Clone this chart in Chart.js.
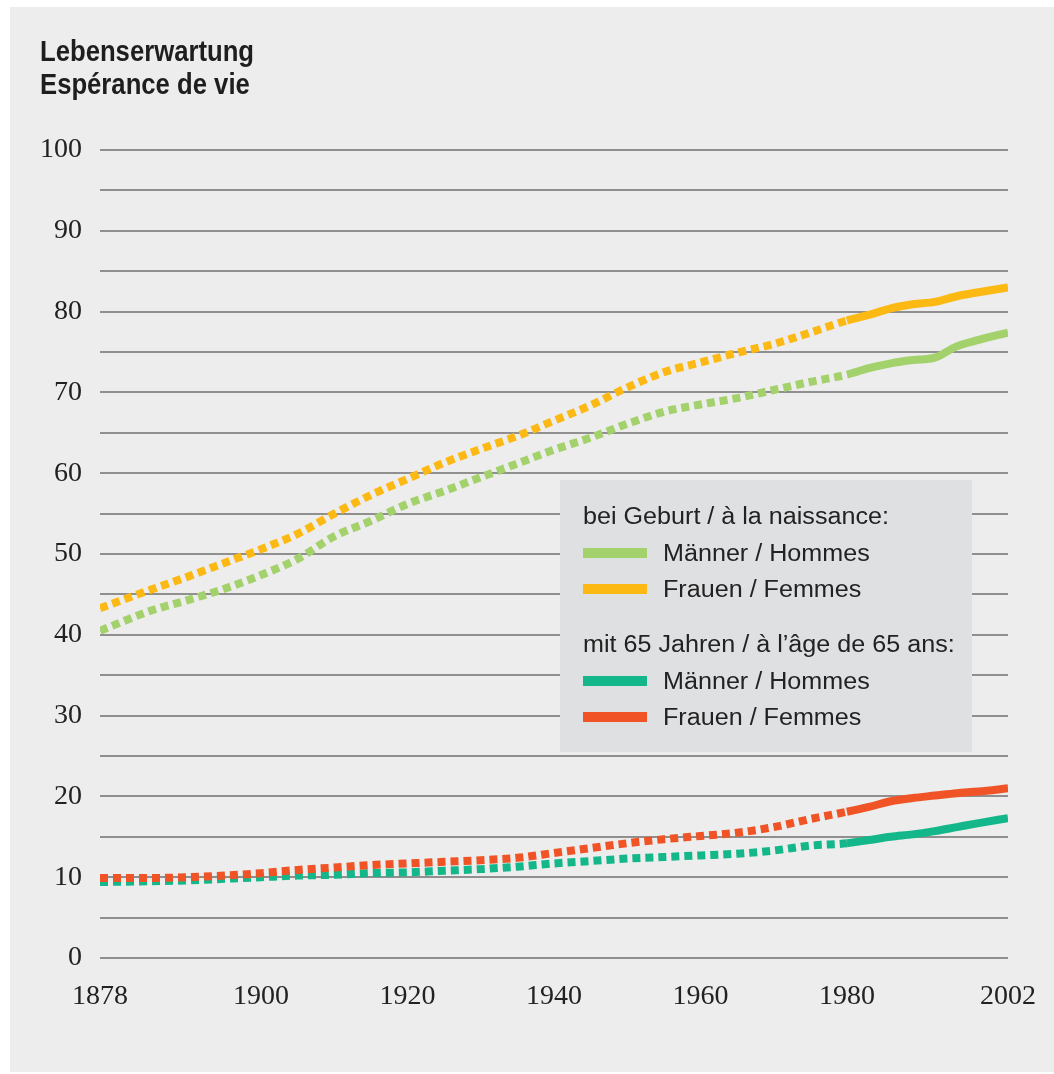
<!DOCTYPE html>
<html>
<head>
<meta charset="utf-8">
<script src="https://cdn.jsdelivr.net/npm/chart.js@4"></script>
<style>
  body { margin: 0; background: #ffffff; }
  #wrap { position: relative; width: 1054px; height: 1074px; }
</style>
</head>
<body>
<div id="wrap"><canvas id="lifeChart"></canvas></div>
<script>
// Jahre / années
var years = [1878, 1885, 1890, 1895, 1900, 1905, 1910, 1915, 1920, 1925, 1930, 1935, 1940, 1945,
             1950, 1955, 1960, 1965, 1970, 1975, 1980, 1983, 1986, 1989, 1992, 1995, 1998, 2002];

// bei Geburt
var maennerGeburt = [40.5, 43.0, 44.3, 45.7, 47.4, 49.4, 52.2, 54.1, 56.2, 57.8, 59.5, 61.2, 62.9, 64.4,
                     66.1, 67.6, 68.5, 69.3, 70.3, 71.3, 72.2, 73.0, 73.6, 74.0, 74.3, 75.7, 76.5, 77.4];
var frauenGeburt = [43.3, 45.6, 47.2, 48.9, 50.6, 52.5, 55.0, 57.3, 59.3, 61.3, 63.0, 64.6, 66.5, 68.4,
                    70.6, 72.5, 73.7, 74.9, 76.0, 77.4, 78.9, 79.6, 80.4, 80.9, 81.2, 81.9, 82.4, 83.0];

// mit 65 Jahren
var maenner65 = [9.4, 9.5, 9.6, 9.8, 10.0, 10.2, 10.3, 10.5, 10.6, 10.8, 11.0, 11.3, 11.7, 12.0,
                 12.3, 12.5, 12.7, 12.9, 13.3, 13.9, 14.2, 14.6, 15.0, 15.3, 15.7, 16.2, 16.7, 17.3];
var frauen65 = [9.9, 9.9, 10.0, 10.2, 10.5, 10.9, 11.2, 11.5, 11.7, 11.9, 12.1, 12.4, 13.0, 13.6,
                14.2, 14.7, 15.1, 15.5, 16.2, 17.2, 18.1, 18.7, 19.4, 19.8, 20.1, 20.4, 20.6, 21.0];

var xTicks = [1878, 1900, 1920, 1940, 1960, 1980, 2002];
var dottedUntil = 1980; // bis 1980 gepunktet

var titel = ['Lebenserwartung', 'Espérance de vie'];
var legendeGruppen = [
    { titel: 'bei Geburt / à la naissance:', eintraege: [
        { text: 'Männer / Hommes', farbe: '#a3d16b' },
        { text: 'Frauen / Femmes', farbe: '#fdb913' } ] },
    { titel: 'mit 65 Jahren / à l’âge de 65 ans:', eintraege: [
        { text: 'Männer / Hommes', farbe: '#14b789' },
        { text: 'Frauen / Femmes', farbe: '#f05426' } ] }
];

function punkte(werte) {
    return years.map(function (j, i) { return { x: j, y: werte[i] }; });
}

function linie(label, werte, farbe) {
    return {
        label: label,
        data: punkte(werte),
        borderColor: farbe,
        borderWidth: 8,
        borderCapStyle: 'butt',
        borderDash: [],
        pointRadius: 0,
        cubicInterpolationMode: 'monotone',
        segment: {
            borderDash: function (ctx) { return ctx.p1.parsed.x <= dottedUntil ? [8, 5] : undefined; }
        }
    };
}

// Hintergrund, Titel und Legendenkasten
var deko = {
    id: 'deko',
    beforeDraw: function (chart) {
        var c = chart.ctx;
        c.save();
        c.fillStyle = '#ffffff';
        c.fillRect(0, 0, chart.width, chart.height);
        c.fillStyle = '#ecedec';
        c.fillRect(10, 7, chart.width - 10, chart.height - 9);
        // Titel
        c.fillStyle = '#1e1e1e';
        c.font = 'bold 29px "Liberation Sans", Arial, sans-serif';
        c.textBaseline = 'alphabetic';
        var sx = 214 / c.measureText(titel[0]).width;
        c.translate(40, 0);
        c.scale(sx, 1);
        c.fillText(titel[0], 0, 61);
        c.fillText(titel[1], 0, 94);
        c.restore();
    },
    beforeDatasetsDraw: function (chart) {
        var c = chart.ctx;
        c.save();
        c.fillStyle = '#dfe0e2';
        c.fillRect(560, 480, 412, 272);
        c.font = '23px "Liberation Sans", Arial, sans-serif';
        c.textBaseline = 'middle';
        var sx = 306 / c.measureText(legendeGruppen[0].titel).width;
        var y = 518;
        legendeGruppen.forEach(function (g, gi) {
            if (gi > 0) y += 56;
            c.save(); c.translate(583, 0); c.scale(sx, 1);
            c.fillStyle = '#222222';
            c.fillText(g.titel, 0, y);
            c.restore();
            g.eintraege.forEach(function (e) {
                y += 36;
                c.fillStyle = e.farbe;
                c.fillRect(583, y - 6, 64, 10);
                c.save(); c.translate(663, 0); c.scale(sx, 1);
                c.fillStyle = '#222222';
                c.fillText(e.text, 0, y + 1);
                c.restore();
            });
        });
        c.restore();
    }
};

var ctx = document.getElementById('lifeChart').getContext('2d');
window.lifeChart = new Chart(ctx, {
    type: 'line',
    data: {
        datasets: [
            linie('Frauen / Femmes (Geburt)', frauenGeburt, '#fdb913'),
            linie('Männer / Hommes (Geburt)', maennerGeburt, '#a3d16b'),
            linie('Frauen / Femmes (65)', frauen65, '#f05426'),
            linie('Männer / Hommes (65)', maenner65, '#14b789')
        ]
    },
    options: {
        responsive: true,
        maintainAspectRatio: false,
        animation: false,
        layout: { padding: { left: 10, right: 46, top: 150, bottom: 66 } },
        plugins: { legend: { display: false }, tooltip: { enabled: false } },
        scales: {
            x: {
                type: 'linear',
                min: 1878,
                max: 2002,
                afterBuildTicks: function (scale) {
                    scale.ticks = xTicks.map(function (v) { return { value: v }; });
                },
                afterFit: function (scale) {
                    scale.height = 50;
                    scale.paddingLeft = 0;
                    scale.paddingRight = 0; // 2002 darf über den Rand hinaus
                },
                grid: { display: false, drawTicks: false },
                border: { display: false },
                ticks: {
                    autoSkip: false,
                    maxRotation: 0,
                    padding: 22,
                    color: '#222222',
                    font: { family: '"Liberation Serif", "Times New Roman", serif', size: 28 },
                    callback: function (v) { return String(v); }
                }
            },
            y: {
                min: 0,
                max: 100,
                afterFit: function (scale) { scale.width = 90; },
                grid: { color: '#8f8f8f', lineWidth: 2, drawTicks: false },
                border: { display: false },
                ticks: {
                    stepSize: 5,
                    padding: 18,
                    color: '#222222',
                    font: { family: '"Liberation Serif", "Times New Roman", serif', size: 28 },
                    callback: function (v) { return v % 10 === 0 ? String(v) : ''; }
                }
            }
        }
    },
    plugins: [deko]
});
</script>
</body>
</html>
